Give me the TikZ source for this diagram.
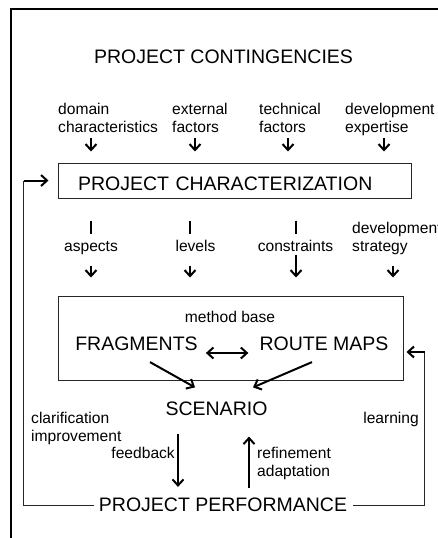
\documentclass[tikz,border=0pt]{standalone}
\usepackage{fontspec}
\setmainfont{Liberation Sans}
\usetikzlibrary{arrows.meta,calc}
\begin{document}
\begin{tikzpicture}[x=1pt,y=-1pt,
  big/.style={font=\fontsize{19.5}{23}\selectfont, inner sep=0pt},
  small/.style={font=\fontsize{15.6}{18}\selectfont, inner sep=0pt, align=left},
  boxline/.style={draw=black!85, line width=1pt},
  arr/.style={line width=2pt, -{Straight Barb[length=6pt,width=11pt]}},
  darr/.style={line width=2pt, {Straight Barb[length=6pt,width=11pt]}-{Straight Barb[length=6pt,width=11pt]}},
  stem/.style={line width=2pt},
  loopline/.style={draw=black!85, line width=1pt},
]
\useasboundingbox (0,0) rectangle (438,538);
% outer frame
\draw[line width=2pt] (11,538) -- (11,9) -- (438,9);

% heading
\node[big] (head) at (223.5,56.5) {PROJECT CONTINGENCIES};

% contingency labels
\node[small, anchor=north west] (dom) at (58,103) {domain\\characteristics};
\node[small, anchor=north west] (ext) at (172,103) {external\\factors};
\node[small, anchor=north west] (tech) at (259,103) {technical\\factors};
\node[small, anchor=north west] (devx) at (345,103) {development\\expertise};

% column coordinates
\coordinate (k1) at (91,0);
\coordinate (k2) at (195,0);
\coordinate (k3) at (288,0);
\coordinate (k4) at (384,0);
\coordinate (m1) at (91,0);
\coordinate (m2) at (190,0);
\coordinate (m3) at (296,0);
\coordinate (m4) at (393,0);

% project characterization box
\node[boxline, big, minimum width=353pt, minimum height=35pt, text width=313pt,
      inner xsep=20pt, inner ysep=0pt, text height=19pt, text depth=0pt, align=left]
      (char) at (234.5,180.5) {PROJECT CHARACTERIZATION};

\foreach \k in {k1,k2,k3,k4}{
  \draw[arr] ($(char.north -| \k)+(0,-25)$) -- ($(char.north -| \k)+(0,-11)$);
}

% method base box
\node[boxline, minimum width=345pt, minimum height=84pt, inner sep=0pt] (mb) at (230.5,338) {};

% second row labels
\node[small, anchor=base] (asp) at (91,251) {aspects};
\node[small, anchor=base] (lev) at (195.5,251) {levels};
\node[small, anchor=base] (con) at (295.5,251) {constraints};
\node[small, anchor=north west] (dstr) at (352,222) {development\\strategy};

\foreach \m in {m1,m2,m3}{
  \draw[stem] ($(char.south -| \m)+(0,22)$) -- ($(char.south -| \m)+(0,35)$);
}
\foreach \m in {m1,m2,m4}{
  \draw[arr] ($(mb.north -| \m)+(0,-30)$) -- ($(mb.north -| \m)+(0,-18)$);
}
\draw[arr] ($(mb.north -| m3)+(0,-41)$) -- ($(mb.north -| m3)+(0,-18)$);

% inside method base
\node[small, anchor=base] (mbl) at (230,322) {method base};
\node[big] (frag) at (136.5,344) {FRAGMENTS};
\node[big] (rm) at (324,344) {ROUTE MAPS};
\draw[darr] ($(frag.east)+(8,9)$) -- ($(rm.west)+(-11,9)$);

% scenario
\node[big] (scen) at (216.5,408.5) {SCENARIO};
\draw[arr] ($(frag.south)+(13.5,11)$) -- ($(scen.north)+(-21.5,-14)$);
\draw[arr] ($(rm.south)+(-12,11)$) -- ($(scen.north)+(36.5,-14)$);

% project performance
\node[big] (perf) at (223,505) {PROJECT PERFORMANCE};
\draw[arr] ($(scen.south)+(-38.5,18)$) -- ($(perf.north)+(-45,-11)$);
\draw[arr] ($(perf.north)+(26,-10)$) -- ($(scen.south)+(32.5,21)$);

% loops
\draw[loopline] ($(perf.west)+(-5,0)$) -| ($(char.west)+(-34,0)$);
\draw[arr] ($(char.west)+(-34,0)$) -- ($(char.west)+(-9,0)$);
\draw[loopline] ($(perf.east)+(6,0)$) -| ($(mb.east)+(21,14)$);
\draw[arr] ($(mb.east)+(21,14)$) -- ($(mb.east)+(3,14)$);

% side labels
\node[small, anchor=north west] (clar) at (31,412) {clarification\\improvement};
\node[small, anchor=base east] (fb) at (175,458) {feedback};
\node[small, anchor=north west] (ref) at (257,447) {refinement\\adaptation};
\node[small, anchor=base east] (learn) at (419,423) {learning};
\end{tikzpicture}
\end{document}
